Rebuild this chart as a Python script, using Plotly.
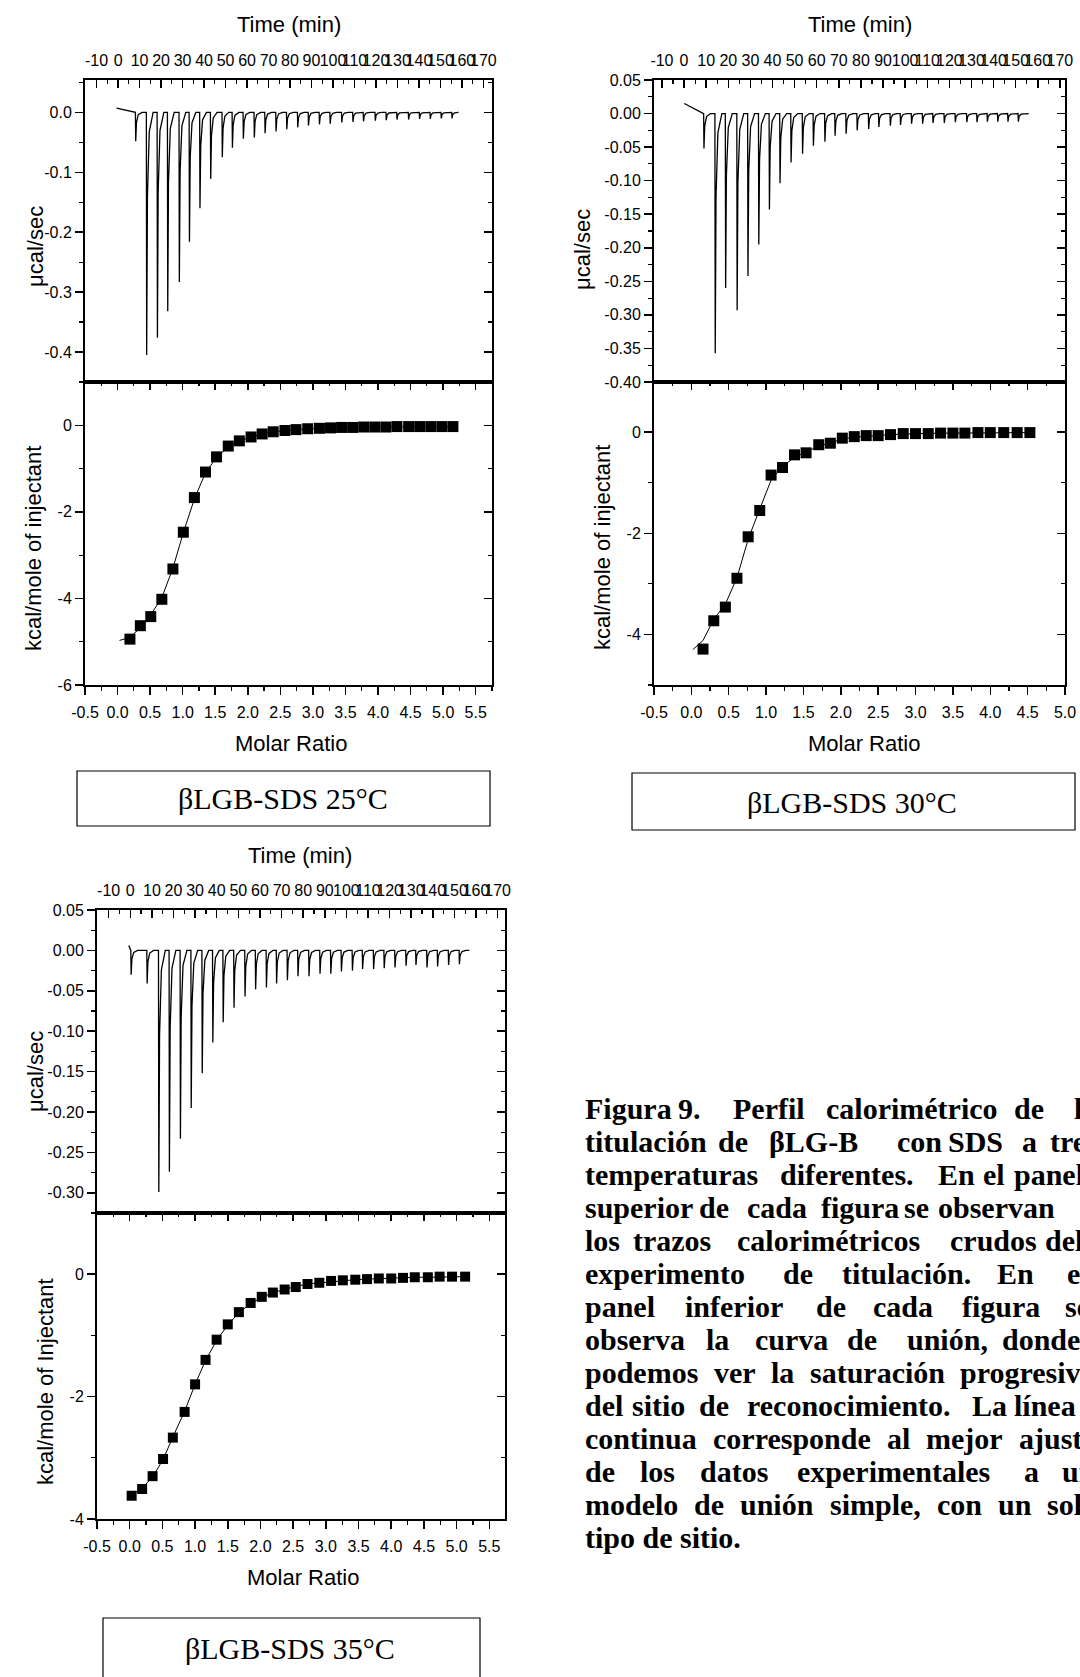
import plotly.graph_objects as go

# ---------------- DATA ----------------
# 25 °C raw thermogram: injection times (min) and peak heights (µcal/s)
raw_t_25 = [8.2, 13.3, 18.3, 23.1, 28.5, 33.2, 38.1, 43.1, 48.5, 53.2, 58.3, 63.4, 68.4, 73.5, 78.5,
            83.6, 88.6, 93.7, 98.7, 104.1, 109.3, 114.2, 119.7, 124.8, 129.8, 135.2, 140.3, 145.3, 150.4, 155.4]
raw_p_25 = [-0.048, -0.405, -0.376, -0.332, -0.283, -0.216, -0.160, -0.111, -0.075, -0.059, -0.044, -0.042,
            -0.035, -0.032, -0.028, -0.025, -0.022, -0.020, -0.019, -0.017, -0.016, -0.015, -0.014, -0.013,
            -0.012, -0.012, -0.011, -0.011, -0.010, -0.010]
raw_start_25 = [-0.7, 0.007]
raw_end_25 = 157.7

# 25 °C binding isotherm
mr_25 = [0.19, 0.35, 0.51, 0.68, 0.85, 1.01, 1.18, 1.35, 1.52, 1.70, 1.87, 2.05, 2.22, 2.39, 2.57,
         2.74, 2.92, 3.10, 3.27, 3.44, 3.61, 3.78, 3.95, 4.12, 4.29, 4.47, 4.64, 4.81, 4.98, 5.15]
dh_25 = [-4.94, -4.63, -4.42, -4.02, -3.32, -2.47, -1.67, -1.08, -0.73, -0.48, -0.36, -0.27, -0.20, -0.15,
         -0.12, -0.10, -0.08, -0.07, -0.06, -0.05, -0.05, -0.04, -0.04, -0.04, -0.03, -0.03, -0.03, -0.03,
         -0.03, -0.03]
fit_x_25 = [0.03, 0.19, 0.35, 0.51, 0.68, 0.85, 1.01, 1.18, 1.35, 1.52, 1.70, 1.87, 2.05, 2.22, 2.39,
            2.57, 2.74, 2.92, 3.10, 3.27, 3.44, 3.61, 3.78, 3.95, 4.12, 4.29, 4.47, 4.64, 4.81, 4.98, 5.15]
fit_y_25 = [-4.97, -4.90, -4.68, -4.38, -3.98, -3.30, -2.48, -1.70, -1.10, -0.74, -0.50, -0.36, -0.27,
            -0.20, -0.15, -0.12, -0.10, -0.08, -0.07, -0.06, -0.05, -0.05, -0.04, -0.04, -0.04, -0.03,
            -0.03, -0.03, -0.03, -0.03, -0.03]

# 30 °C raw thermogram
raw_t_30 = [9.0, 14.1, 18.8, 24.0, 28.9, 33.8, 38.6, 43.4, 48.4, 53.6, 58.5, 63.7, 68.3, 73.3, 78.3,
            83.5, 88.1, 93.3, 97.9, 102.9, 107.9, 112.6, 117.7, 122.7, 127.9, 132.5, 137.2, 141.9, 146.5, 151.2]
raw_p_30 = [-0.052, -0.357, -0.260, -0.293, -0.242, -0.195, -0.143, -0.104, -0.073, -0.060, -0.048, -0.042,
            -0.033, -0.030, -0.025, -0.023, -0.020, -0.018, -0.017, -0.015, -0.015, -0.014, -0.014, -0.013,
            -0.013, -0.013, -0.012, -0.012, -0.012, -0.012]
raw_start_30 = [0.1, 0.015]
raw_end_30 = 155.9

# 30 °C binding isotherm
mr_30 = [0.156, 0.30, 0.455, 0.61, 0.76, 0.915, 1.067, 1.22, 1.38, 1.535, 1.705, 1.86, 2.02, 2.18, 2.34,
         2.50, 2.665, 2.835, 3.00, 3.17, 3.335, 3.50, 3.66, 3.835, 4.00, 4.18, 4.36, 4.53]
dh_30 = [-4.29, -3.73, -3.46, -2.89, -2.07, -1.55, -0.85, -0.70, -0.45, -0.41, -0.25, -0.22, -0.12, -0.09,
         -0.07, -0.07, -0.05, -0.03, -0.03, -0.03, -0.02, -0.02, -0.02, -0.01, -0.01, -0.01, -0.01, -0.01]
fit_x_30 = [0.02, 0.156, 0.30, 0.455, 0.61, 0.76, 0.915, 1.067, 1.22, 1.38, 1.535, 1.705, 1.86, 2.02,
            2.18, 2.34, 2.50, 2.665, 2.835, 3.00, 3.17, 3.335, 3.50, 3.66, 3.835, 4.00, 4.18, 4.36, 4.53]
fit_y_30 = [-4.30, -4.12, -3.70, -3.40, -2.88, -2.12, -1.52, -0.95, -0.68, -0.50, -0.39, -0.28, -0.21,
            -0.14, -0.10, -0.08, -0.07, -0.05, -0.04, -0.03, -0.03, -0.02, -0.02, -0.02, -0.01, -0.01,
            -0.01, -0.01, -0.01]

# 35 °C raw thermogram
raw_t_35 = [0.4, 7.8, 13.2, 18.1, 23.2, 28.2, 33.3, 38.2, 43.0, 48.0, 53.1, 58.0, 63.0, 67.7, 72.7, 77.6,
            82.7, 87.8, 92.8, 97.7, 102.8, 107.5, 112.6, 117.5, 122.5, 127.6, 132.2, 137.3, 142.2, 147.3, 152.3]
raw_p_35 = [-0.030, -0.041, -0.299, -0.274, -0.233, -0.195, -0.152, -0.114, -0.089, -0.071, -0.057, -0.048,
            -0.046, -0.041, -0.037, -0.032, -0.032, -0.029, -0.029, -0.026, -0.025, -0.023, -0.023, -0.022,
            -0.021, -0.019, -0.018, -0.021, -0.020, -0.018, -0.017]
raw_start_35 = [-0.7, 0.006]
raw_end_35 = 156.9

# 35 °C binding isotherm
mr_35 = [0.03, 0.19, 0.35, 0.51, 0.66, 0.84, 1.00, 1.16, 1.33, 1.50, 1.67, 1.85, 2.02, 2.19, 2.37,
         2.54, 2.72, 2.90, 3.08, 3.26, 3.45, 3.63, 3.81, 4.00, 4.18, 4.36, 4.56, 4.74, 4.93, 5.13]
dh_35 = [-3.62, -3.51, -3.30, -3.02, -2.67, -2.25, -1.80, -1.40, -1.07, -0.82, -0.62, -0.47, -0.37, -0.30,
         -0.25, -0.21, -0.16, -0.14, -0.11, -0.10, -0.09, -0.08, -0.07, -0.07, -0.06, -0.05, -0.05, -0.04,
         -0.04, -0.04]
fit_x_35 = mr_35
fit_y_35 = [-3.60, -3.50, -3.31, -3.03, -2.66, -2.24, -1.80, -1.41, -1.08, -0.83, -0.63, -0.48, -0.38,
            -0.30, -0.25, -0.20, -0.16, -0.14, -0.12, -0.10, -0.09, -0.08, -0.07, -0.07, -0.06, -0.05,
            -0.05, -0.05, -0.04, -0.04]

# Tick values / labels
time_ticks = [-10, 0, 10, 20, 30, 40, 50, 60, 70, 80, 90, 100, 110, 120, 130, 140, 150, 160, 170]
time_labels = ["-10", "0", "10", "20", "30", "40", "50", "60", "70", "80", "90", "100", "110", "120",
               "130", "140", "150", "160", "170"]
raw_ticks_25 = [0.0, -0.1, -0.2, -0.3, -0.4]
raw_labels_25 = ["0.0", "-0.1", "-0.2", "-0.3", "-0.4"]
raw_ticks_30 = [0.05, 0.0, -0.05, -0.10, -0.15, -0.20, -0.25, -0.30, -0.35, -0.40]
raw_labels_30 = ["0.05", "0.00", "-0.05", "-0.10", "-0.15", "-0.20", "-0.25", "-0.30", "-0.35", "-0.40"]
raw_ticks_35 = [0.05, 0.0, -0.05, -0.10, -0.15, -0.20, -0.25, -0.30]
raw_labels_35 = ["0.05", "0.00", "-0.05", "-0.10", "-0.15", "-0.20", "-0.25", "-0.30"]
mr_ticks_a = [-0.5, 0.0, 0.5, 1.0, 1.5, 2.0, 2.5, 3.0, 3.5, 4.0, 4.5, 5.0, 5.5]
mr_labels_a = ["-0.5", "0.0", "0.5", "1.0", "1.5", "2.0", "2.5", "3.0", "3.5", "4.0", "4.5", "5.0", "5.5"]
mr_ticks_b = [-0.5, 0.0, 0.5, 1.0, 1.5, 2.0, 2.5, 3.0, 3.5, 4.0, 4.5, 5.0]
mr_labels_b = ["-0.5", "0.0", "0.5", "1.0", "1.5", "2.0", "2.5", "3.0", "3.5", "4.0", "4.5", "5.0"]
kcal_ticks_25 = [0, -2, -4, -6]
kcal_labels_25 = ["0", "-2", "-4", "-6"]
kcal_ticks_3x = [0, -2, -4]
kcal_labels_3x = ["0", "-2", "-4"]

panel_titles = ["\u03b2LGB-SDS 25\u00b0C", "\u03b2LGB-SDS 30\u00b0C", "\u03b2LGB-SDS 35\u00b0C"]

caption_lines = [
    ["Figura", "9.", "Perfil", "calorimétrico", "de", "la"],
    ["titulación", "de", "\u03b2LG-B", "con", "SDS", "a", "tres"],
    ["temperaturas", "diferentes.", "En", "el", "panel"],
    ["superior", "de", "cada", "figura", "se", "observan"],
    ["los", "trazos", "calorimétricos", "crudos", "del"],
    ["experimento", "de", "titulación.", "En", "el"],
    ["panel", "inferior", "de", "cada", "figura", "se"],
    ["observa", "la", "curva", "de", "unión,", "donde"],
    ["podemos", "ver", "la", "saturación", "progresiva"],
    ["del", "sitio", "de", "reconocimiento.", "La", "línea"],
    ["continua", "corresponde", "al", "mejor", "ajuste"],
    ["de", "los", "datos", "experimentales", "a", "un"],
    ["modelo", "de", "unión", "simple,", "con", "un", "solo"],
    ["tipo de sitio."],
]

# ---------------- LAYOUT (pixel geometry) ----------------
W, H = 1080, 1677
caption_word_x = [
    [583, 676, 731, 824, 1012, 1072],
    [583, 716, 767, 895, 946, 1020, 1048],
    [583, 778, 936, 981, 1012],
    [583, 697, 745, 819, 902, 936],
    [583, 631, 735, 948, 1043],
    [583, 781, 840, 995, 1065],
    [583, 683, 814, 871, 960, 1063],
    [583, 704, 753, 845, 905, 1000],
    [583, 712, 769, 808, 958],
    [583, 630, 697, 745, 970, 1012],
    [583, 711, 885, 924, 1017],
    [583, 638, 698, 795, 1022, 1060],
    [583, 692, 738, 828, 935, 996, 1045],
    [583],
]

panels = [
    dict(x=(85, 492), up=(80, 382), lo=(382, 685),
         trange=[-15.4, 174], rrange=[-0.45, 0.054], mrange=[-0.5, 5.75], krange=[-6.0, 1.0],
         rt=raw_t_25, rp=raw_p_25, rs=raw_start_25, re=raw_end_25,
         mx=mr_25, my=dh_25, fx=fit_x_25, fy=fit_y_25,
         rticks=raw_ticks_25, rlabels=raw_labels_25, rminor=0.05,
         mticks=mr_ticks_a, mlabels=mr_labels_a, kticks=kcal_ticks_25, klabels=kcal_labels_25,
         msize=11, kcal_title="kcal/mole of injectant",
         time_title=(289, 25), mu_title=(35, 247), k_title=(33, 549), mr_title=(291, 743),
         box=(77, 771, 490, 826), box_text=(283, 798)),
    dict(x=(654, 1065), up=(80, 382), lo=(382, 685),
         trange=[-13.6, 172.3], rrange=[-0.40, 0.05], mrange=[-0.5, 5.0], krange=[-5.0, 0.99],
         rt=raw_t_30, rp=raw_p_30, rs=raw_start_30, re=raw_end_30,
         mx=mr_30, my=dh_30, fx=fit_x_30, fy=fit_y_30,
         rticks=raw_ticks_30, rlabels=raw_labels_30, rminor=0.025,
         mticks=mr_ticks_b, mlabels=mr_labels_b, kticks=kcal_ticks_3x, klabels=kcal_labels_3x,
         msize=11, kcal_title="kcal/mole of injectant",
         time_title=(860, 25), mu_title=(583, 250), k_title=(602, 548), mr_title=(864, 743),
         box=(632, 773, 1075, 830), box_text=(852, 802)),
    dict(x=(97, 505), up=(910, 1213), lo=(1213, 1519),
         trange=[-15.4, 173.4], rrange=[-0.325, 0.05], mrange=[-0.5, 5.74], krange=[-4.0, 1.0],
         rt=raw_t_35, rp=raw_p_35, rs=raw_start_35, re=raw_end_35,
         mx=mr_35, my=dh_35, fx=fit_x_35, fy=fit_y_35,
         rticks=raw_ticks_35, rlabels=raw_labels_35, rminor=0.025,
         mticks=mr_ticks_a, mlabels=mr_labels_a, kticks=kcal_ticks_3x, klabels=kcal_labels_3x,
         msize=10, kcal_title="kcal/mole of Injectant",
         time_title=(300, 855), mu_title=(35, 1072), k_title=(45, 1382), mr_title=(303, 1577),
         box=(103, 1618, 480, 1710), box_text=(290, 1648)),
]

SANS = "Arial, Liberation Sans, sans-serif"
SERIF = "Times New Roman, Liberation Serif, serif"
TICKF = dict(family=SANS, size=16, color="black")


def px(x):
    return x / W


def py(y):
    return 1 - y / H


def base_axis(**kw):
    d = dict(showgrid=False, zeroline=False, showline=True, linecolor="black", linewidth=2,
             tickcolor="black", tickwidth=1.5, ticklen=8, tickfont=TICKF, tickangle=0,
             fixedrange=True, automargin=False)
    d.update(kw)
    return d


fig = go.Figure()
layout = dict(width=W, height=H, margin=dict(l=0, r=0, t=0, b=0, pad=0, autoexpand=False),
              paper_bgcolor="white", plot_bgcolor="rgba(0,0,0,0)", showlegend=False)
annotations = []
shapes = []

for i, P in enumerate(panels):
    xt, xm, xmm = 3 * i + 1, 3 * i + 2, 3 * i + 3
    yr, yrm, yk, ykm = 4 * i + 1, 4 * i + 2, 4 * i + 3, 4 * i + 4
    xdom = [px(P["x"][0]), px(P["x"][1])]
    updom = [py(P["up"][1]), py(P["up"][0])]
    lodom = [py(P["lo"][1]), py(P["lo"][0])]

    # raw thermogram: baseline with one sharp spike per injection
    tx, ty = [P["rs"][0]], [P["rs"][1]]
    for t, p in zip(P["rt"], P["rp"]):
        tx += [t - 0.15, t, t + 0.35, t + 1.2, t + 3.0]
        ty += [0.0, p, p * 0.35, p * 0.08, 0.0]
    tx.append(P["re"])
    ty.append(0.0)
    fig.add_trace(go.Scatter(x=tx, y=ty, mode="lines", line=dict(color="black", width=1.3),
                             xaxis=f"x{xt}", yaxis=f"y{yr}", hoverinfo="skip"))
    fig.add_trace(go.Scatter(x=[None], y=[None], mode="lines", xaxis=f"x{xt}", yaxis=f"y{yrm}",
                             hoverinfo="skip"))
    # binding isotherm
    fig.add_trace(go.Scatter(x=P["fx"], y=P["fy"], mode="lines", line=dict(color="black", width=1),
                             xaxis=f"x{xm}", yaxis=f"y{yk}", hoverinfo="skip"))
    fig.add_trace(go.Scatter(x=P["mx"], y=P["my"], mode="markers",
                             marker=dict(symbol="square", size=P["msize"], color="black"),
                             xaxis=f"x{xm}", yaxis=f"y{yk}"))
    fig.add_trace(go.Scatter(x=[None], y=[None], mode="lines", xaxis=f"x{xmm}", yaxis=f"y{yk}",
                             hoverinfo="skip"))
    fig.add_trace(go.Scatter(x=[None], y=[None], mode="lines", xaxis=f"x{xm}", yaxis=f"y{ykm}",
                             hoverinfo="skip"))

    minor_in = dict(ticks="inside", ticklen=4, tickcolor="black", tickwidth=1.2)
    minor_out = dict(ticks="outside", ticklen=4, tickcolor="black", tickwidth=1.2)

    # time axis (top of raw panel)
    layout[f"xaxis{xt}"] = base_axis(domain=xdom, anchor=f"y{yr}", side="top", range=P["trange"],
                                     tickmode="array", tickvals=time_ticks, ticktext=time_labels,
                                     ticks="inside", mirror=True, ticklabelstandoff=6,
                                     minor=dict(dtick=5, tick0=0, **minor_in))
    layout[f"yaxis{yr}"] = base_axis(domain=updom, anchor=f"x{xt}", side="left", range=P["rrange"],
                                     tickmode="array", tickvals=P["rticks"], ticktext=P["rlabels"],
                                     ticks="outside",
                                     minor=dict(dtick=P["rminor"], tick0=0, **minor_out))
    layout[f"yaxis{yrm}"] = base_axis(domain=updom, anchor=f"x{xt}", overlaying=f"y{yr}", side="right",
                                      range=P["rrange"], tickmode="array", tickvals=P["rticks"],
                                      showticklabels=False, ticks="inside",
                                      minor=dict(dtick=P["rminor"], tick0=0, **minor_in))
    # molar ratio axes
    layout[f"xaxis{xm}"] = base_axis(domain=xdom, anchor=f"y{yk}", side="bottom", range=P["mrange"],
                                     tickmode="array", tickvals=P["mticks"], ticktext=P["mlabels"],
                                     ticks="outside", ticklabelstandoff=4,
                                     minor=dict(dtick=0.25, tick0=0, **minor_out))
    layout[f"xaxis{xmm}"] = base_axis(domain=xdom, anchor=f"y{yk}", overlaying=f"x{xm}", side="top",
                                      range=P["mrange"], tickmode="array", tickvals=P["mticks"],
                                      showticklabels=False, ticks="inside",
                                      minor=dict(dtick=0.25, tick0=0, **minor_in))
    layout[f"yaxis{yk}"] = base_axis(domain=lodom, anchor=f"x{xm}", side="left", range=P["krange"],
                                     tickmode="array", tickvals=P["kticks"], ticktext=P["klabels"],
                                     ticks="outside",
                                     minor=dict(dtick=1, tick0=0, **minor_out))
    layout[f"yaxis{ykm}"] = base_axis(domain=lodom, anchor=f"x{xm}", overlaying=f"y{yk}", side="right",
                                      range=P["krange"], tickmode="array", tickvals=P["kticks"],
                                      showticklabels=False, ticks="inside",
                                      minor=dict(dtick=1, tick0=0, **minor_in))

    # axis titles
    tfont = dict(family=SANS, size=22, color="black")
    annotations.append(dict(text="Time (min)", x=px(P["time_title"][0]), y=py(P["time_title"][1]),
                            xref="paper", yref="paper", showarrow=False, font=tfont,
                            xanchor="center", yanchor="middle"))
    annotations.append(dict(text="\u03bccal/sec", x=px(P["mu_title"][0]), y=py(P["mu_title"][1]),
                            xref="paper", yref="paper", showarrow=False, textangle=-90, font=tfont,
                            xanchor="center", yanchor="middle"))
    annotations.append(dict(text=P["kcal_title"], x=px(P["k_title"][0]), y=py(P["k_title"][1]),
                            xref="paper", yref="paper", showarrow=False, textangle=-90, font=tfont,
                            xanchor="center", yanchor="middle"))
    annotations.append(dict(text="Molar Ratio", x=px(P["mr_title"][0]), y=py(P["mr_title"][1]),
                            xref="paper", yref="paper", showarrow=False, font=tfont,
                            xanchor="center", yanchor="middle"))
    # label boxes
    bx0, by0, bx1, by1 = P["box"]
    shapes.append(dict(type="rect", xref="paper", yref="paper", x0=px(bx0), x1=px(bx1),
                       y0=py(by1), y1=py(by0), line=dict(color="black", width=1.2)))
    annotations.append(dict(text=panel_titles[i], x=px(P["box_text"][0]), y=py(P["box_text"][1]),
                            xref="paper", yref="paper", showarrow=False,
                            font=dict(family=SERIF, size=30, color="black"),
                            xanchor="center", yanchor="middle"))

# caption text
for li, words in enumerate(caption_lines):
    yc = 1108 + 33.0 * li
    for w, xw in zip(words, caption_word_x[li]):
        annotations.append(dict(text=f"<b>{w}</b>", x=px(xw), y=py(yc), xref="paper", yref="paper",
                                showarrow=False, xanchor="left", yanchor="middle",
                                font=dict(family=SERIF, size=30, color="black")))

layout["annotations"] = annotations
layout["shapes"] = shapes
fig.update_layout(**layout)
fig.write_html("out.html", config={"displayModeBar": False, "staticPlot": True},
               post_script="document.body.style.margin='0';document.body.style.padding='0';"
                           "document.body.style.overflow='hidden';"
                           "document.documentElement.style.overflow='hidden';")
